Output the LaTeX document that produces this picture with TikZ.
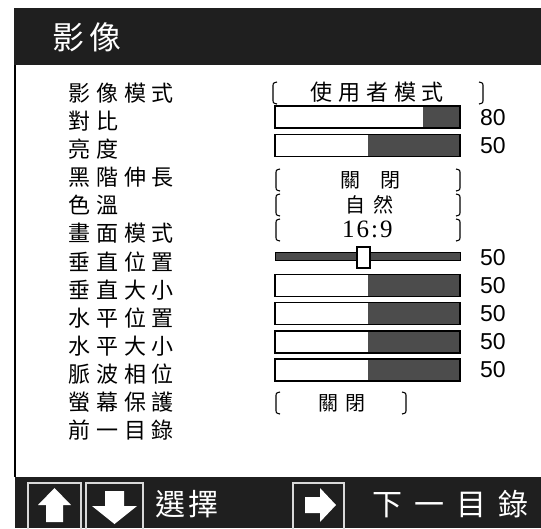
\documentclass[tikz,border=0pt]{standalone}
\usepackage{fontspec}
\setmainfont{Liberation Sans}
\newfontfamily\cjk{Noto Sans CJK TC}
\newfontfamily\digserif{Liberation Serif}
\usetikzlibrary{positioning}
\tikzset{
  hdr/.style={fill=black!88},
  lbl/.style={anchor=west, inner sep=0pt,
    font=\fontsize{22}{22}\cjk\addfontfeatures{LetterSpace=27}},
  opt/.style={anchor=west, inner sep=0pt,
    font=\fontsize{20}{20}\cjk\addfontfeatures{LetterSpace=#1}},
  val/.style={anchor=west, inner sep=0pt, font=\fontsize{23}{23}\selectfont},
  big/.style={anchor=west, inner sep=0pt, text=white,
    font=\fontsize{#1}{#1}\cjk},
  barline/.style={draw=black, line width=1.3pt},
  bardark/.style={fill=black!70},
  brk/.style={line width=1.1pt},
  keybox/.style={draw=black!15, line width=1.6pt},
  lbrk/.pic={\draw[brk] (5,-11) .. controls (1,-10) .. (1,-6) -- (1,6)
    .. controls (1,10) .. (5,11);},
  rbrk/.pic={\draw[brk] (-5,-11) .. controls (-1,-10) .. (-1,-6) -- (-1,6)
    .. controls (-1,10) .. (-5,11);}
}
\begin{document}
\begin{tikzpicture}[x=1pt,y=-1pt]
  \useasboundingbox (0,0) rectangle (541,528);
  \clip (0,0) rectangle (541,528);
  % title bar and key bar
  \fill[hdr] (14,8) rectangle (541,65);
  \fill[hdr] (15,477) rectangle (541,528);
  \draw[line width=1.5pt] (15,65) -- (15,477);
  \node[big=32] (title) at (52,37)
    {\addfontfeatures{LetterSpace=16}影像};
  % menu items
  \foreach \t [count=\i from 0] in {影像模式,對比,亮度,黑階伸長,色溫,畫面模式,
      垂直位置,垂直大小,水平位置,水平大小,脈波相位,螢幕保護,前一目錄}
    \node[lbl] (lab\i) at (68,{93+28.1*\i}) {\t};
  % bars
  \foreach \r/\v in {1/80,2/50,7/50,8/50,9/50,10/50} {
    \pgfmathsetmacro\yy{89+28.1*\r}
    \pgfmathsetmacro\xx{275+185*\v/100}
    \fill[bardark] (\xx,\yy-11) rectangle (460,\yy+11);
    \draw[barline] (275,\yy-11) rectangle (460,\yy+11);
    \node[val] (val\r) at (480,\yy) {\v};
  }
  % slider
  \fill[bardark] (275,252) rectangle (460,260);
  \draw[line width=0.6pt] (275,252) rectangle (460,260);
  \draw[fill=white, line width=1.1pt] (357,247) rectangle (370,268);
  \node[val] (val6) at (480,258) {50};
  % choices
  \pic at (272,93) {lbrk};
  \pic at (484,93) {rbrk};
  \node[opt=27, font=\fontsize{22}{22}\cjk\addfontfeatures{LetterSpace=27}]
    (mode) at (310,92) {使用者模式};
  \foreach \yy in {180,205,230} {
    \pic at (275,\yy) {lbrk};
    \pic at (461,\yy) {rbrk};
  }
  \node[opt=100] (black) at (340,180) {關閉};
  \node[opt=40] (temp) at (345,205) {自然};
  \node[anchor=west, inner sep=0pt,
    font=\fontsize{25}{25}\digserif\addfontfeatures{LetterSpace=8}]
    (aspect) at (342,229) {16:9};
  \pic at (275,403) {lbrk};
  \pic at (407,403) {rbrk};
  \node[opt=35] (saver) at (318,403) {關閉};
  % keys
  \draw[keybox] (28,483) rectangle (81,540);
  \fill[white] (54.5,488) -- (71,505) -- (63,505) -- (63,522) -- (46,522)
    -- (46,505) -- (38,505) -- cycle;
  \draw[keybox] (86,483) rectangle (143,540);
  \fill[white] (114.5,524) -- (137,506) -- (124,506) -- (124,491) -- (105,491)
    -- (105,506) -- (92,506) -- cycle;
  \node[big=30] (select) at (155,504)
    {\addfontfeatures{LetterSpace=10}選擇};
  \draw[keybox] (293,483) rectangle (344,540);
  \fill[white] (336,505) -- (320,488) -- (320,497) -- (305,497) -- (305,513)
    -- (320,513) -- (320,522) -- cycle;
  \node[big=30] (next) at (372,504)
    {\addfontfeatures{LetterSpace=40}下一目錄};
\end{tikzpicture}
\end{document}
